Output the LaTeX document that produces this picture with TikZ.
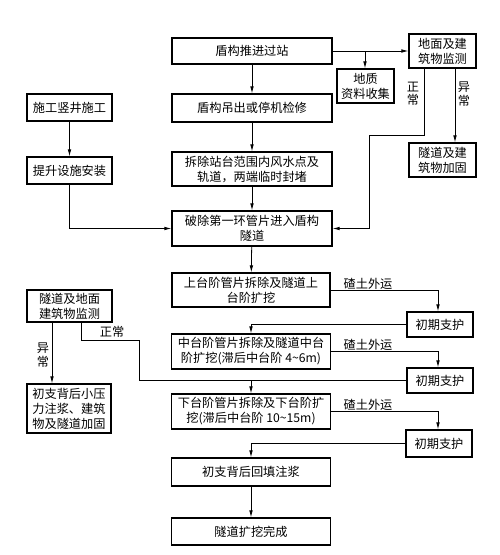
\documentclass[tikz,border=0pt]{standalone}
\usepackage{fontspec}
\newfontfamily\cjk{Noto Sans CJK SC}
\usetikzlibrary{arrows.meta}
\tikzset{
  box/.style={draw, line width=1.2pt, inner sep=0pt, align=center, font=\cjk\fontsize{12.2}{15}\selectfont},
  lbl/.style={inner sep=0pt, align=center, font=\cjk\fontsize{12.2}{13.5}\selectfont},
  conn/.style={line width=0.8pt},
  arr/.style={conn, -{Latex[length=7pt,width=3.6pt]}}
}
\begin{document}
\begin{tikzpicture}[x=1pt,y=-1pt]
\useasboundingbox[fill=white] (0,0) rectangle (500,555);
% main column
\node[box, minimum width=160, minimum height=26] (push) at (252,51) {盾构推进过站};
\node[box, minimum width=67, minimum height=34] (mon1) at (442.5,51) {地面及建\\筑物监测};
\node[box, minimum width=57, minimum height=34] (geo) at (365.5,86) {地质\\资料收集};
\node[box, minimum width=85, minimum height=27] (shaft) at (69.5,107.5) {施工竖井施工};
\node[box, minimum width=160, minimum height=28] (lift) at (252,108) {盾构吊出或停机检修};
\node[box, minimum width=85, minimum height=27] (hoist) at (69.5,170.5) {提升设施安装};
\node[box, minimum width=160, minimum height=34] (remove) at (252,169) {拆除站台范围内风水点及\\轨道，两端临时封堵};
\node[box, minimum width=67, minimum height=34] (reinf) at (442.5,160) {隧道及建\\筑物加固};
\node[box, minimum width=160, minimum height=35] (break) at (252,228.5) {破除第一环管片进入盾构\\隧道};
\node[box, minimum width=158, minimum height=34] (upper) at (251,290) {上台阶管片拆除及隧道上\\台阶扩挖};
\node[box, minimum width=85, minimum height=32] (mon2) at (69.5,306) {隧道及地面\\建筑物监测};
\node[box, minimum width=66, minimum height=25] (sup1) at (440,324.5) {初期支护};
\node[box, minimum width=159, minimum height=35] (mid) at (251,351.5) {中台阶管片拆除及隧道中台\\阶扩挖(滞后中台阶 4\textasciitilde 6m)};
\node[box, minimum width=66, minimum height=25] (sup2) at (440,380.5) {初期支护};
\node[box, minimum width=84, minimum height=49] (grout) at (69,408.5) {初支背后小压\\力注浆、建筑\\物及隧道加固};
\node[box, minimum width=159, minimum height=35] (lower) at (251,411.5) {下台阶管片拆除及下台阶扩\\挖(滞后中台阶 10\textasciitilde 15m)};
\node[box, minimum width=66, minimum height=27] (sup3) at (439,443.5) {初期支护};
\node[box, minimum width=159, minimum height=28] (backfill) at (251,472) {初支背后回填注浆};
\node[box, minimum width=159, minimum height=27] (done) at (251,531.5) {隧道扩挖完成};
% coordinates
\coordinate (br1) at (365,51);
\coordinate (n1) at (424,68);
\coordinate (n2) at (369,135);
\coordinate (a1) at (455,68);
\coordinate (m1) at (81,322);
\coordinate (m2) at (139,340);
\coordinate (m3) at (52,322);
% connectors
\draw[arr] (push) -- (mon1);
\draw[arr] (br1) -- (geo.north -| br1);
\draw[arr] (push) -- (lift);
\draw[arr] (lift) -- (remove);
\draw[arr] (remove) -- (break);
\draw[arr] (shaft) -- (hoist);
\draw[arr] (hoist) |- (break.west);
\draw[arr] (n1) |- (n2) |- (break.east);
\draw[arr] (a1) -- (reinf.north -| a1);
\draw[arr] (break) -- (upper);
\draw[arr] (upper.east) -| (sup1.north -| 438,0);
\draw[arr] (sup1.west) -| (mid.north);
\draw[arr] (mid.east) -| (sup2.north -| 438,0);
\draw[arr] (sup2.west) -| (lower.north);
\draw[conn] (m1) |- (m2) |- (lower.north |- sup2.west);
\draw[arr] (m3) -- (grout.north -| m3);
\draw[arr] (lower.east) -| (sup3.north -| 438,0);
\draw[arr] (sup3.west) -| (backfill.north);
\draw[arr] (backfill) -- (done);
% labels
\node[lbl] (l1) at (413,94) {正\\常};
\node[lbl] (l2) at (464,94) {异\\常};
\node[lbl] (l3) at (368,284) {碴土外运};
\node[lbl] (l4) at (368,344.5) {碴土外运};
\node[lbl] (l5) at (368,404.5) {碴土外运};
\node[lbl] (l6) at (112,332) {正常};
\node[lbl] (l7) at (43,355) {异\\常};
\end{tikzpicture}
\end{document}
